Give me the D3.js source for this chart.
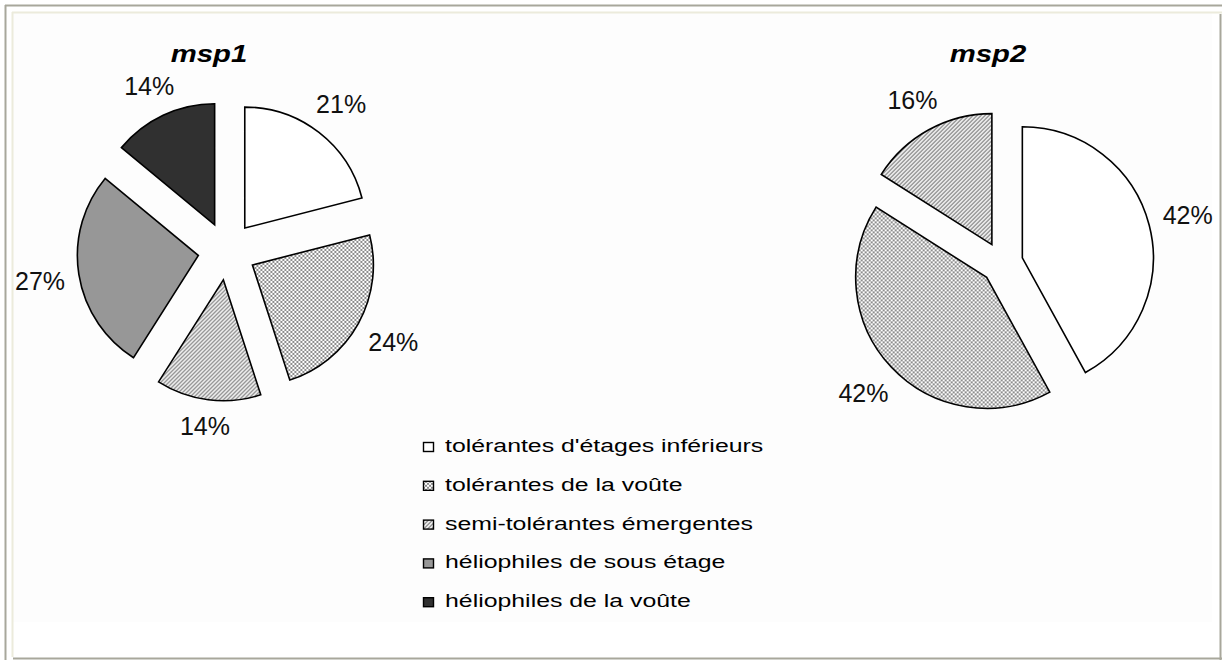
<!DOCTYPE html>
<html>
<head>
<meta charset="utf-8">
<script src="https://cdn.jsdelivr.net/npm/d3@7"></script>
<style>
  html, body { margin: 0; padding: 0; background: #fff; }
  svg { display: block; }
  text { font-family: "Liberation Sans", Arial, sans-serif; fill: #111; }
</style>
</head>
<body>
<div id="chart"></div>
<script>
// categories shared by both pies (msp2 only has the first three)
var categories = [
  "tolérantes d'étages inférieurs",
  "tolérantes de la voûte",
  "semi-tolérantes émergentes",
  "héliophiles de sous étage",
  "héliophiles de la voûte"
];
var msp1Values = [21, 24, 14, 27, 14];
var msp2Values = [42, 42, 16];
var chartTitles = ["msp1", "msp2"];

var width = 1222, height = 660;

var svg = d3.select("#chart")
  .append("svg")
  .attr("width", width)
  .attr("height", height);

var defs = svg.append("defs");

// small grey dots pattern
var dots = defs.append("pattern")
  .attr("id", "dots")
  .attr("patternUnits", "userSpaceOnUse")
  .attr("width", 4)
  .attr("height", 4);
dots.append("rect").attr("width", 4).attr("height", 4).attr("fill", "#fff");
dots.append("rect").attr("x", 0).attr("y", 0).attr("width", 2).attr("height", 2).attr("fill", "#8c8c8c");
dots.append("rect").attr("x", 2).attr("y", 2).attr("width", 2).attr("height", 2).attr("fill", "#8c8c8c");

// diagonal stripes pattern
var stripes = defs.append("pattern")
  .attr("id", "stripes")
  .attr("patternUnits", "userSpaceOnUse")
  .attr("width", 4)
  .attr("height", 4);
stripes.append("rect").attr("width", 4).attr("height", 4).attr("fill", "#fff");
stripes.append("path")
  .attr("d", "M-1,1 L1,-1 M0,4 L4,0 M3,5 L5,3")
  .attr("stroke", "#666")
  .attr("stroke-width", 1.1);

var fills = ["#ffffff", "url(#dots)", "url(#stripes)", "#979797", "#303030"];

// frame
svg.append("rect").attr("x", 12).attr("y", 12).attr("width", 1200).attr("height", 610).attr("fill", "#fdfdfd");
svg.append("line").attr("x1", 5).attr("y1", 5.5).attr("x2", 1222).attr("y2", 5.5).attr("stroke", "#a8a79b").attr("stroke-width", 2);
svg.append("line").attr("x1", 5.5).attr("y1", 5).attr("x2", 5.5).attr("y2", 660).attr("stroke", "#a8a79b").attr("stroke-width", 2);
svg.append("line").attr("x1", 12).attr("y1", 12.5).attr("x2", 1222).attr("y2", 12.5).attr("stroke", "#ecebdc").attr("stroke-width", 2);
svg.append("line").attr("x1", 12.5).attr("y1", 12).attr("x2", 12.5).attr("y2", 657).attr("stroke", "#ecebdc").attr("stroke-width", 2);
svg.append("line").attr("x1", 1220.5).attr("y1", 14).attr("x2", 1220.5).attr("y2", 660).attr("stroke", "#a8a79b").attr("stroke-width", 2);
svg.append("line").attr("x1", 13).attr("y1", 658.5).attr("x2", 1222).attr("y2", 658.5).attr("stroke", "#a8a79b").attr("stroke-width", 2);

var pie = d3.pie().sort(null).value(function(d) { return d; });

function drawPie(values, cx, cy, r, explode, titleX, titleY, title) {
  var arc = d3.arc().innerRadius(0).outerRadius(r);
  var g = svg.append("g").attr("transform", "translate(" + cx + "," + cy + ")");
  var arcs = pie(values);

  g.selectAll("path.slice")
    .data(arcs)
    .enter()
    .append("path")
    .attr("class", "slice")
    .attr("d", arc)
    .attr("transform", function(d) {
      var a = (d.startAngle + d.endAngle) / 2;
      return "translate(" + (Math.sin(a) * explode) + "," + (-Math.cos(a) * explode) + ")";
    })
    .attr("fill", function(d, i) { return fills[i]; })
    .attr("stroke", "#000")
    .attr("stroke-width", 1.6)
    .attr("stroke-linejoin", "miter");

  // percentage labels, pushed out so the text box sits just past the slice
  g.selectAll("text.lbl")
    .data(arcs)
    .enter()
    .append("text")
    .attr("class", "lbl")
    .attr("text-anchor", "middle")
    .attr("dominant-baseline", "central")
    .style("font-size", "25px")
    .text(function(d) { return d.data + "%"; })
    .each(function(d) {
      var bb = this.getBBox();
      var a = (d.startAngle + d.endAngle) / 2;
      var s = Math.sin(a), c = Math.cos(a);
      var rr = r + explode + 13 + (bb.width / 2) * Math.abs(s) + 10 * Math.abs(c);
      d3.select(this).attr("x", s * rr).attr("y", -c * rr);
    });

  svg.append("text")
    .attr("transform", "translate(" + titleX + "," + titleY + ") scale(1.22,1)")
    .attr("text-anchor", "middle")
    .style("font-size", "24px")
    .style("font-weight", "bold")
    .style("font-style", "italic")
    .style("fill", "#000")
    .text(title);
}

drawPie(msp1Values, 227, 251, 121, 29, 209, 62, chartTitles[0]);
drawPie(msp2Values, 1002, 263, 131, 21, 988, 62, chartTitles[1]);

// legend
var legendX = 423, legendY0 = 452, legendStep = 38.8;
var legend = svg.append("g");
var rows = legend.selectAll("g.row")
  .data(categories)
  .enter()
  .append("g")
  .attr("class", "row")
  .attr("transform", function(d, i) { return "translate(" + legendX + "," + (legendY0 + i * legendStep) + ")"; });

rows.append("rect")
  .attr("x", 0.5)
  .attr("y", -9.5)
  .attr("width", 10)
  .attr("height", 9)
  .attr("fill", function(d, i) { return fills[i]; })
  .attr("stroke", "#000")
  .attr("stroke-width", 1.4);

rows.append("text")
  .attr("transform", "translate(22,0) scale(1.42,1)")
  .style("font-size", "17.5px")
  .style("fill", "#000")
  .text(function(d) { return d; });
</script>
</body>
</html>
